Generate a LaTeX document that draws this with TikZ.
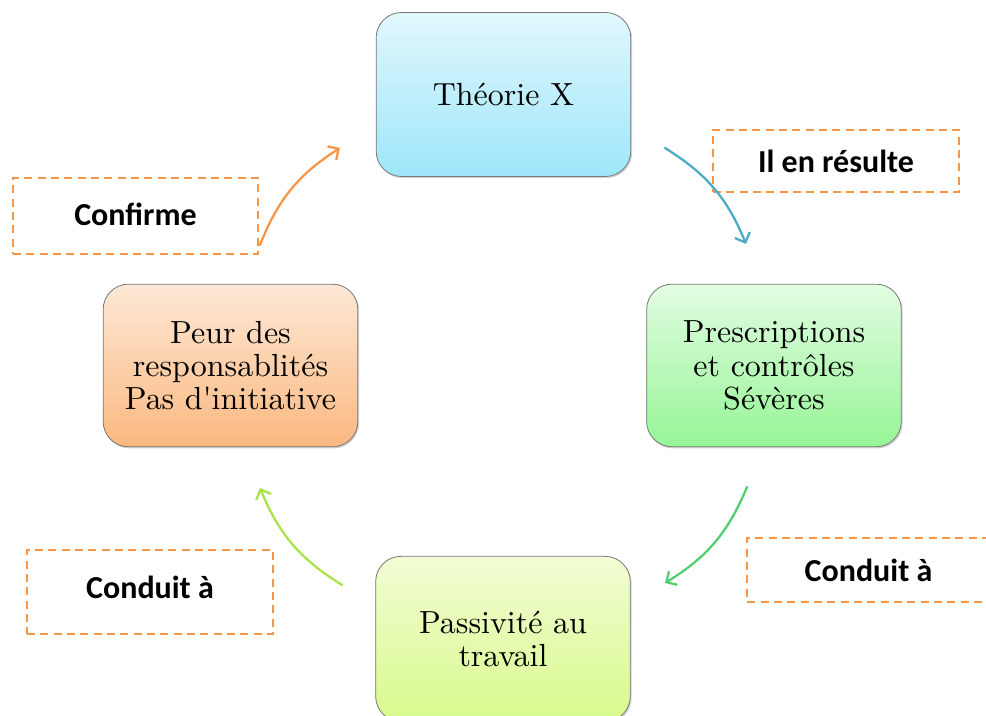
\documentclass[tikz,border=0pt]{standalone}
\usepackage{fontspec}
\newfontfamily\labfont{Carlito}
\newfontfamily\boxfont[Extension=.otf]{lmroman10-regular}
\usetikzlibrary{arrows.meta,shadows}
\definecolor{tealA}{RGB}{75,172,198}
\definecolor{greenA}{RGB}{80,208,110}
\definecolor{limeA}{RGB}{168,228,72}
\definecolor{orangeA}{RGB}{247,150,70}
\definecolor{bord}{RGB}{120,120,120}
\tikzset{
  mainbox/.style={draw=bord, line width=0.6pt, rounded corners=19pt,
    minimum width=191pt, minimum height=123pt, align=center,
    font=\boxfont\fontsize{24}{25}\selectfont,
    drop shadow={shadow xshift=1pt, shadow yshift=-1.2pt, opacity=0.35}},
  labbox/.style={draw=orangeA, line width=1.8pt, dash pattern=on 6pt off 4pt,
    align=center, font=\labfont\bfseries\fontsize{24}{26}\selectfont},
  curvarrow/.style={line width=1.7pt, line cap=round,
    -{Straight Barb[length=6pt,width=12pt,line width=1.7pt]}},
}
\begin{document}
\begin{tikzpicture}[x=0.75pt,y=0.75pt]
\clip (0,0) rectangle (986,716);
\fill[white] (0,0) rectangle (986,716);
% main boxes
\node[mainbox, top color={rgb,255:red,225;green,247;blue,253}, bottom color={rgb,255:red,158;green,230;blue,250}] (theo) at (503.5,621.5) {Théorie X};
\node[mainbox, minimum height=122pt, top color={rgb,255:red,226;green,252;blue,226}, bottom color={rgb,255:red,150;green,245;blue,150}] (pres) at (774,350.5) {Prescriptions\\et contrôles\\Sévères};
\node[mainbox, minimum height=122pt, top color={rgb,255:red,253;green,232;blue,214}, bottom color={rgb,255:red,251;green,184;blue,128}] (peur) at (230.5,350.5) {Peur des\\responsablités\\Pas d'initiative};
\node[mainbox, minimum height=124pt, top color={rgb,255:red,242;green,252;blue,212}, bottom color={rgb,255:red,216;green,250;blue,140}] (pass) at (503,77) {Passivité au\\travail};
% label boxes
\node[labbox, minimum width=184.5pt, minimum height=46.5pt] (res) at (836,555) {Il en résulte};
\node[labbox, minimum width=183.75pt, minimum height=57pt] (conf) at (135.5,500) {\raisebox{3pt}{Confirme}};
\node[labbox, minimum width=184.5pt, minimum height=63pt] (condL) at (150,124) {\raisebox{7pt}{Conduit à}};
\node[labbox, minimum width=182pt, minimum height=48pt] (condR) at (868.5,146) {Conduit à};
% arrow end points
\coordinate (a1s) at (665,568); \coordinate (a1e) at (746,472);
\coordinate (a2s) at (747,229); \coordinate (a2e) at (665,133);
\coordinate (a3s) at (342,131); \coordinate (a3e) at (260,228);
\coordinate (a4s) at (260,471); \coordinate (a4e) at (340,568);
\draw[curvarrow, tealA] (a1s) to[bend left=18] (a1e);
\draw[curvarrow, greenA] (a2s) to[bend left=18] (a2e);
\draw[curvarrow, limeA] (a3s) to[bend left=18] (a3e);
\draw[curvarrow, orangeA] (a4s) to[bend left=18] (a4e);
\end{tikzpicture}
\end{document}
